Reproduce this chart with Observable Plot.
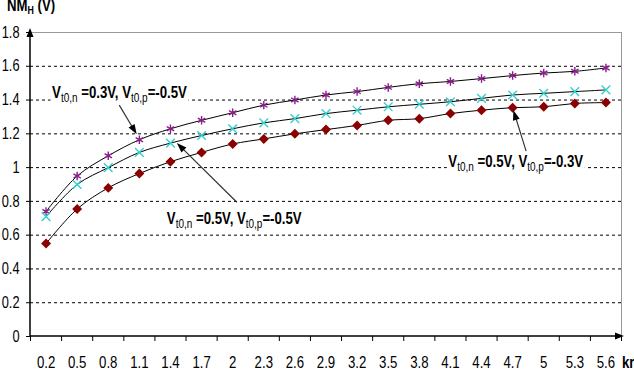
<!DOCTYPE html>
<html><head><meta charset="utf-8">
<script src="https://cdn.jsdelivr.net/npm/d3@7"></script>
<script src="https://cdn.jsdelivr.net/npm/@observablehq/plot@0.6"></script>
<style>body{margin:0;background:#fff}</style>
</head><body><div id="chart"></div>
<script>
const categories = ["0.2","0.5","0.8","1.1","1.4","1.7","2","2.3","2.6","2.9","3.2","3.5","3.8","4.1","4.4","4.7","5","5.3","5.6"];
// Vt0,n = 0.3V, Vt0,p = -0.5V (purple stars)
const seriesA = [0.74,0.95,1.07,1.165,1.23,1.28,1.325,1.37,1.40,1.43,1.45,1.475,1.497,1.51,1.527,1.545,1.56,1.57,1.59];
// Vt0,n = 0.5V, Vt0,p = -0.5V (cyan crosses)
const seriesB = [0.71,0.90,1.0,1.09,1.145,1.19,1.23,1.265,1.29,1.32,1.34,1.36,1.375,1.39,1.41,1.43,1.44,1.45,1.46];
// Vt0,n = 0.5V, Vt0,p = -0.3V (dark red diamonds)
const seriesC = [0.55,0.755,0.88,0.965,1.035,1.09,1.14,1.17,1.20,1.225,1.25,1.28,1.29,1.32,1.34,1.355,1.36,1.38,1.385];
const yTicks = [0,0.2,0.4,0.6,0.8,1,1.2,1.4,1.6,1.8];
const yTickLabels = ["0","0.2","0.4","0.6","0.8","1","1.2","1.4","1.6","1.8"];
const yLabel = ["NM","H"," (V)"];
const xLabel = "kr";
// annotation texts: [main, sub, main, sub, main]
const annTexts = [
  ["V","t0,n"," =0.3V, V","t0,p","=-0.5V"],
  ["V","t0,n"," =0.5V, V","t0,p","=-0.5V"],
  ["V","t0,n"," =0.5V, V","t0,p","=-0.3V"]
];
// anchors in data space (x = category index space, y = value)
const annTextPos = [[0.71,1.41],[4.40,0.665],[13.45,1.0]];
const annArrowFrom = [[2.87,1.367],[6.65,0.792],[15.95,1.095]];
const annArrowTo = [[3.43,1.194],[4.72,1.143],[15.54,1.337]];

const font = "'Liberation Sans',Arial,sans-serif";
const SX = 0.8; // narrow look
const toRows = (vals, s) => vals.map((v,i)=>({x:i+0.5, y:v, series:s}));
const rowsA = toRows(seriesA,"A"), rowsB = toRows(seriesB,"B"), rowsC = toRows(seriesC,"C");
const nCat = categories.length;

function arrowHead(g, x1,y1,x2,y2, len, half){
  const a = Math.atan2(y2-y1,x2-x1);
  const bx = x2 - len*Math.cos(a), by = y2 - len*Math.sin(a);
  const px = -Math.sin(a)*half, py = Math.cos(a)*half;
  g.append("path").attr("d",`M${x2},${y2}L${bx+px},${by+py}L${bx-px},${by-py}Z`).attr("fill","#000");
}

function overlay(index, scales, values, dims){
  const {x, y} = scales;
  const g = d3.create("svg:g").attr("class","ov").attr("text-anchor","start");
  const x0 = x(0), y0 = y(0), yTop = y(1.8), xEnd = x(nCat);
  g.append("line").attr("x1",x0).attr("x2",x0).attr("y1",y0).attr("y2",yTop-2).attr("stroke","#000").attr("stroke-width",1.5);
  arrowHead(g, x0,y0, x0,yTop-4, 9, 3.5);
  g.append("line").attr("x1",x0).attr("x2",xEnd).attr("y1",y0).attr("y2",y0).attr("stroke","#000").attr("stroke-width",1.5);
  arrowHead(g, x0,y0, xEnd+3,y0, 9, 3.5);
  annArrowFrom.forEach((f,i)=>{
    const t = annArrowTo[i];
    const X1=x(f[0]),Y1=y(f[1]),X2=x(t[0]),Y2=y(t[1]);
    const a=Math.atan2(Y2-Y1,X2-X1);
    g.append("line").attr("x1",X1).attr("y1",Y1).attr("x2",X2-6*Math.cos(a)).attr("y2",Y2-6*Math.sin(a)).attr("stroke","#333").attr("stroke-width",1.2);
    arrowHead(g, X1,Y1,X2,Y2, 10, 3.5);
  });
  annTexts.forEach((parts,i)=>{
    const p = annTextPos[i];
    const t = g.append("text").attr("class","ann")
      .attr("transform",`translate(${x(p[0])},${y(p[1])}) scale(${SX},1)`)
      .attr("font-family",font).attr("font-size",16.5).attr("font-weight","bold").attr("fill","#000");
    parts.forEach((s,j)=>{
      const sub = j%2===1;
      const ts = t.append("tspan").text(s).attr("xml:space","preserve");
      if (sub) ts.attr("font-size",12.5).attr("font-weight","normal").attr("dy",4);
      else if (j>0) ts.attr("dy",-4);
    });
  });
  const yl = g.append("text").attr("transform",`translate(7,11) scale(${SX},1)`).attr("font-family",font).attr("font-size",16.5).attr("font-weight","bold");
  yl.append("tspan").text(yLabel[0]);
  yl.append("tspan").text(yLabel[1]).attr("font-size",11).attr("dy",3);
  yl.append("tspan").text(yLabel[2]).attr("dy",-3).attr("xml:space","preserve");
  g.append("text").attr("transform",`translate(${xEnd+1},368) scale(${SX},1)`).attr("font-family",font).attr("font-size",16.5).attr("font-weight","bold").text(xLabel);
  return g.node();
}

const chart = Plot.plot({
  width: 634, height: 376,
  marginLeft: 30, marginRight: 13, marginTop: 32, marginBottom: 40,
  x: {domain:[0,nCat]},
  y: {domain:[0,1.8]},
  style: {fontFamily: font, background:"#fff", color:"#000"},
  marks: [
    Plot.ruleY(yTicks.filter(v=>v>0 && v<1.8), {stroke:"#000", strokeDasharray:"3,3", strokeWidth:1}),
    Plot.ruleY([1.8], {stroke:"#999", strokeWidth:1}),
    Plot.ruleX([nCat], {stroke:"#999", strokeWidth:1}),
    Plot.axisY({ticks: yTicks, tickFormat: d => yTickLabels[yTicks.indexOf(d)], tickSize:4, tickPadding:7, fontSize:16, label:null}),
    Plot.axisX({ticks: categories.map((c,i)=>i+0.5), tickFormat: d => categories[Math.round(d-0.5)], tickSize:0, tickPadding:20, fontSize:16.5, label:null}),
    Plot.axisX({ticks: d3.range(0,nCat+1), tickFormat: () => "", tickSize:5, label:null}),
    Plot.line([...rowsA,...rowsB,...rowsC], {x:"x", y:"y", z:"series", stroke:"#000", strokeWidth:1, curve:"catmull-rom"}),
    Plot.dot(rowsA, {x:"x", y:"y", symbol:"asterisk", stroke:"#8a1f8a", strokeWidth:1.4, r:4}),
    Plot.dot(rowsB, {x:"x", y:"y", symbol:"times", stroke:"#33d0d0", strokeWidth:1.4, r:4}),
    Plot.dot(rowsC, {x:"x", y:"y", symbol:"diamond2", fill:"#8b0000", stroke:"none", r:4.5}),
    overlay
  ]
});
document.getElementById("chart").appendChild(chart);
// narrow the tick labels like the reference
d3.select(chart).selectAll("text").filter(function(){ return !this.closest(".ov"); })
  .each(function(){ const tr = this.getAttribute("transform"); if (tr) this.setAttribute("transform", tr + ` scale(${SX},1)`); });
// white boxes behind annotation texts
d3.select(chart).selectAll("text.ann").each(function(){
  const b = this.getBBox();
  const tr = this.getAttribute("transform");
  d3.select(this.parentNode).insert("rect", () => this)
    .attr("transform", tr).attr("x", b.x-2).attr("y", b.y).attr("width", b.width+4).attr("height", b.height).attr("fill","#fff");
});
</script>
</body></html>
